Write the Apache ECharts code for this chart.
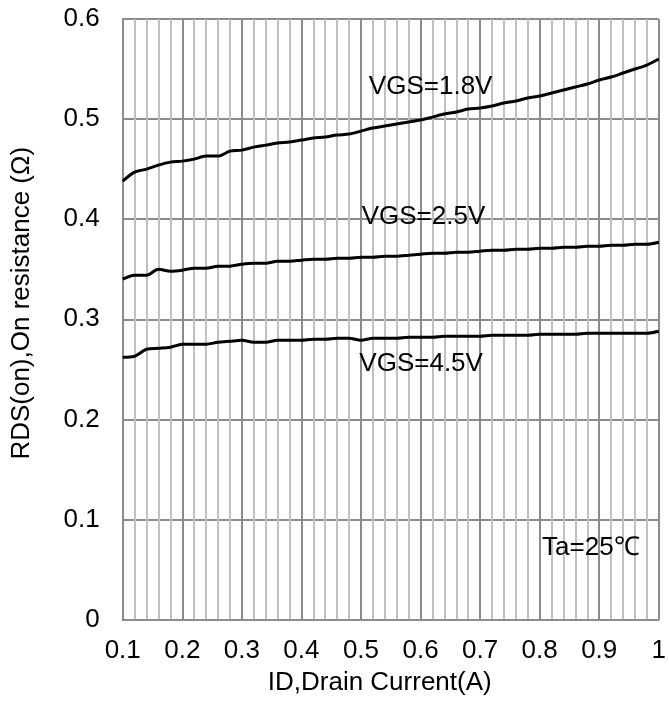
<!DOCTYPE html>
<html>
<head>
<meta charset="utf-8">
<script src="https://cdn.jsdelivr.net/npm/echarts@6/dist/echarts.min.js"></script>
<style>
  html, body { margin: 0; padding: 0; background: #fff; }
  #rdson { width: 669px; height: 701px; }
</style>
</head>
<body>
<div id="rdson"></div>
<script>
// drain current (A), sampled every 0.02 A
const current = [
  0.10, 0.12, 0.14, 0.16, 0.18, 0.20, 0.22, 0.24, 0.26, 0.28,
  0.30, 0.32, 0.34, 0.36, 0.38, 0.40, 0.42, 0.44, 0.46, 0.48,
  0.50, 0.52, 0.54, 0.56, 0.58, 0.60, 0.62, 0.64, 0.66, 0.68,
  0.70, 0.72, 0.74, 0.76, 0.78, 0.80, 0.82, 0.84, 0.86, 0.88,
  0.90, 0.92, 0.94, 0.96, 0.98, 1.00
]
// RDS(on) in ohm for each gate voltage
const vgs18 = [
  0.438, 0.447, 0.450, 0.454, 0.457, 0.458, 0.460, 0.463, 0.463, 0.468,
  0.469, 0.472, 0.474, 0.476, 0.477, 0.479, 0.481, 0.482, 0.484, 0.485,
  0.488, 0.491, 0.493, 0.495, 0.497, 0.499, 0.502, 0.505, 0.507, 0.510,
  0.511, 0.513, 0.516, 0.518, 0.521, 0.523, 0.526, 0.529, 0.532, 0.535,
  0.539, 0.542, 0.546, 0.550, 0.554, 0.560
]
const vgs25 = [
  0.340, 0.344, 0.344, 0.350, 0.348, 0.349, 0.351, 0.351, 0.353, 0.353,
  0.355, 0.356, 0.356, 0.358, 0.358, 0.359, 0.360, 0.360, 0.361, 0.361,
  0.362, 0.362, 0.363, 0.363, 0.364, 0.365, 0.366, 0.366, 0.367, 0.367,
  0.368, 0.369, 0.369, 0.370, 0.370, 0.371, 0.371, 0.372, 0.372, 0.373,
  0.373, 0.374, 0.374, 0.375, 0.375, 0.377
]
const vgs45 = [
  0.262, 0.263, 0.270, 0.271, 0.272, 0.275, 0.275, 0.275, 0.277, 0.278,
  0.279, 0.277, 0.277, 0.279, 0.279, 0.279, 0.280, 0.280, 0.281, 0.281,
  0.279, 0.281, 0.281, 0.281, 0.282, 0.282, 0.282, 0.283, 0.283, 0.283,
  0.283, 0.284, 0.284, 0.284, 0.284, 0.285, 0.285, 0.285, 0.285, 0.286,
  0.286, 0.286, 0.286, 0.286, 0.286, 0.288
]
// curve labels: [text, x, y] in data units
const curveLabels = [
  ['VGS=1.8V', 0.617, 0.532],
  ['VGS=2.5V', 0.605, 0.402],
  ['VGS=4.5V', 0.601, 0.2555],
  ['Ta=25℃', 0.886, 0.0715]
]

const font = '"Liberation Sans", Arial, sans-serif'
const majorGrid = '#8c8c8c'
const minorGrid = '#c0c0c0'

function pairs(ys) {
  return current.map((x, i) => [x, ys[i]])
}

function curve(name, ys, withLabels) {
  const s = {
    name,
    type: 'line',
    data: pairs(ys),
    showSymbol: false,
    smooth: 0.3,
    lineStyle: { color: '#000', width: 3 },
    z: 5
  }
  if (withLabels) {
    s.markPoint = {
      symbol: 'circle',
      symbolSize: 0,
      silent: true,
      label: {
        show: true,
        position: 'inside',
        color: '#000',
        fontFamily: font,
        fontSize: 26,
        formatter: p => p.name
      },
      data: curveLabels.map(l => ({ name: l[0], coord: [l[1], l[2]] }))
    }
  }
  return s
}

const chart = echarts.init(document.getElementById('rdson'))
const option = {
  animation: false,
  grid: {
    left: 122.7,
    right: 10,
    top: 19,
    bottom: 81.5,
    containLabel: false
  },
  xAxis: {
    type: 'value',
    min: 0.1,
    max: 1,
    interval: 0.1,
    name: 'ID,Drain Current(A)',
    nameLocation: 'middle',
    nameGap: 50,
    nameTextStyle: {
      color: '#000',
      fontFamily: font,
      fontSize: 26,
      padding: [0, 22, 0, 0]
    },
    axisLine: { show: true, lineStyle: { color: majorGrid, width: 2 } },
    axisTick: { show: false },
    axisLabel: {
      color: '#000',
      fontFamily: font,
      fontSize: 26,
      margin: 18,
      formatter: v => String(Math.round(v * 10) / 10)
    },
    splitLine: { show: true, lineStyle: { color: majorGrid, width: 2 } },
    minorTick: { show: false, splitNumber: 5 },
    minorSplitLine: { show: true, lineStyle: { color: minorGrid, width: 2 } }
  },
  yAxis: {
    type: 'value',
    min: 0,
    max: 0.6,
    interval: 0.1,
    name: 'RDS(on),On resistance (Ω)',
    nameLocation: 'middle',
    nameGap: 88,
    nameTextStyle: {
      color: '#000',
      fontFamily: font,
      fontSize: 26,
      padding: [0, 0, 0, 32]
    },
    axisLine: { show: true, lineStyle: { color: majorGrid, width: 2 } },
    axisTick: { show: false },
    axisLabel: {
      color: '#000',
      fontFamily: font,
      fontSize: 26,
      margin: 23,
      formatter: v => String(Math.round(v * 10) / 10)
    },
    splitLine: { show: true, lineStyle: { color: majorGrid, width: 2 } }
  },
  series: [
    curve('VGS=1.8V', vgs18, true),
    curve('VGS=2.5V', vgs25, false),
    curve('VGS=4.5V', vgs45, false)
  ]
}
chart.setOption(option)
window.onresize = () => {
  chart.resize()
}
</script>
</body>
</html>
